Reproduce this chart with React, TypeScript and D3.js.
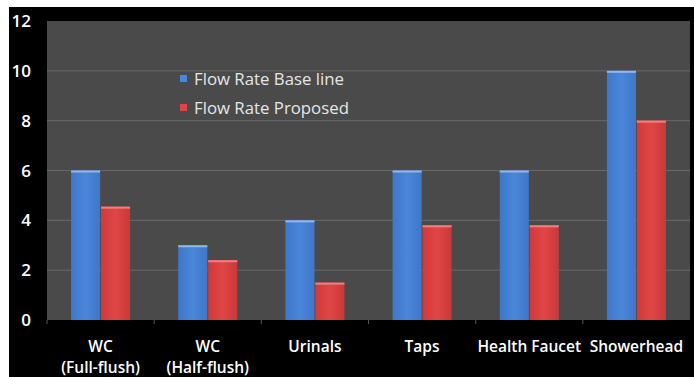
import React from "react";
import * as d3 from "d3";

const categories = ["WC\n(Full-flush)", "WC\n(Half-flush)", "Urinals", "Taps", "Health Faucet", "Showerhead"];
const baseline = [6, 3, 4, 6, 6, 10];
const proposed = [4.55, 2.4, 1.5, 3.8, 3.8, 8];
const yTicks = [0, 2, 4, 6, 8, 10, 12];
const seriesNames = ["Flow Rate Base line", "Flow Rate Proposed"];

const W = 694, H = 377;
const plot = { left: 47, right: 690, top: 21, bottom: 320 };
const FONT = "'Open Sans', Lato, sans-serif";

export default function App() {
  const y = d3.scaleLinear().domain([0, 12]).range([plot.bottom, plot.top]);
  const x = d3.scaleBand().domain(categories).range([plot.left, plot.right]);
  const inner = d3.scaleBand().domain(["b", "p"]).range([0, 59]).paddingInner(0.03);
  const groupOffset = (x.bandwidth() - 59) / 2;
  const series = [
    { key: "b", values: baseline, grad: "gBlue" },
    { key: "p", values: proposed, grad: "gRed" },
  ];
  return (
    <svg width={W} height={H} style={{ position: "absolute", left: 0, top: 0 }}>
      <defs>
        <linearGradient id="gBlue" x1="0" x2="1" y1="0" y2="0">
          <stop offset="0" stopColor="#3f77c9" />
          <stop offset="0.5" stopColor="#4a86da" />
          <stop offset="1" stopColor="#3f77c9" />
        </linearGradient>
        <linearGradient id="gRed" x1="0" x2="1" y1="0" y2="0">
          <stop offset="0" stopColor="#d03a3a" />
          <stop offset="0.5" stopColor="#e04646" />
          <stop offset="1" stopColor="#c93838" />
        </linearGradient>
      </defs>
      <rect x={0} y={0} width={W} height={H} fill="#ffffff" />
      <rect x={9} y={7} width={W - 9} height={H - 7} fill="#000000" />
      <rect x={plot.left} y={plot.top} width={plot.right - plot.left} height={plot.bottom - plot.top} fill="#4a4a4a" />
      {yTicks.map((t) => (
        <g key={t}>
          {t > 0 && t < 12 && (
            <line x1={plot.left} x2={plot.right} y1={y(t)} y2={y(t)} stroke="#696969" strokeWidth={1} />
          )}
          <text x={31} y={y(t)} dy="0.36em" textAnchor="end" fill="#ffffff" fontFamily={FONT} fontSize={17} fontWeight={600}>
            {t}
          </text>
        </g>
      ))}
      {categories.map((c, i) => (
        <line key={"tk" + i} x1={x(c)!} x2={x(c)!} y1={plot.bottom} y2={plot.bottom + 4} stroke="#555" />
      ))}
      {series.map((s) =>
        s.values.map((v, i) => {
          const bx = x(categories[i])! + groupOffset + inner(s.key)!;
          return (
            <g key={s.key + i}>
              <rect x={bx} y={y(v)} width={inner.bandwidth()} height={plot.bottom - y(v)} fill={`url(#${s.grad})`} />
              <rect x={bx} y={y(v)} width={inner.bandwidth()} height={2} fill={s.key === "b" ? "#8fb8f0" : "#f08080"} />
            </g>
          );
        })
      )}
      {categories.map((c, i) => {
        const lines = c.split("\n");
        const cx = x(c)! + x.bandwidth() / 2;
        return (
          <text key={"xl" + i} textAnchor="middle" fill="#ffffff" fontFamily={FONT} fontSize={15.5} fontWeight={600}>
            {lines.map((l, j) => (
              <tspan key={j} x={cx} y={352 + j * 21}>
                {l}
              </tspan>
            ))}
          </text>
        );
      })}
      {seriesNames.map((n, i) => (
        <g key={n}>
          <rect x={180} y={75 + i * 29} width={7} height={7} fill={i === 0 ? "#4a86dc" : "#e04545"} />
          <text x={194} y={79 + i * 29} dy="0.36em" fill="#e6e6e6" fontFamily={FONT} fontSize={16.8} fontWeight={500}>
            {n}
          </text>
        </g>
      ))}
    </svg>
  );
}
